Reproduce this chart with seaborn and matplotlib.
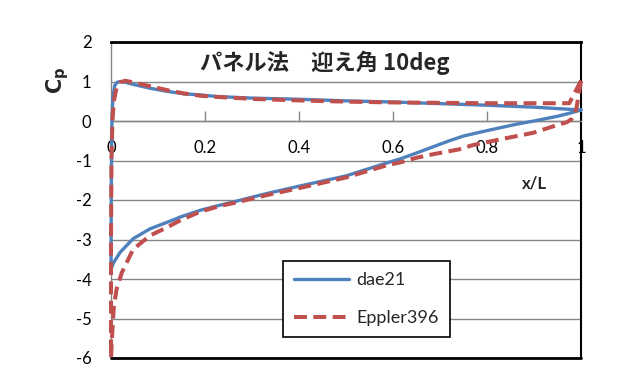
import numpy as np
import pandas as pd
import seaborn as sns
import matplotlib
matplotlib.use("Agg")
import matplotlib.pyplot as plt

# Pressure distribution, panel method, AoA 10 deg.
# Each path runs from the trailing edge along the suction side to the
# leading edge, then back along the pressure side to the trailing edge.
dae21_x = [1.000, 0.980, 0.950, 0.900, 0.863, 0.790, 0.750, 0.720, 0.686, 0.650,
           0.615, 0.590, 0.500, 0.400, 0.330, 0.260, 0.232, 0.190, 0.150, 0.118,
           0.083, 0.047, 0.019, 0.005, 0.000,
           0.0005, 0.001, 0.002, 0.004, 0.008, 0.013, 0.020, 0.030, 0.050, 0.083,
           0.120, 0.154, 0.190, 0.225, 0.300, 0.400, 0.500, 0.600, 0.700, 0.800,
           0.900, 0.970, 1.000]
dae21_cp = [0.28, 0.21, 0.12, 0.00, -0.08, -0.27, -0.38, -0.50, -0.65, -0.81,
            -0.96, -1.05, -1.39, -1.65, -1.84, -2.05, -2.13, -2.26, -2.42, -2.57,
            -2.73, -2.98, -3.33, -3.60, -3.75,
            -2.00, -1.00, 0.00, 0.60, 0.90, 0.98, 1.00, 0.98, 0.92, 0.83,
            0.75, 0.69, 0.66, 0.62, 0.58, 0.55, 0.51, 0.48, 0.44, 0.40,
            0.35, 0.30, 0.28]

eppler_x = [1.000, 0.990, 0.980, 0.970, 0.950, 0.898, 0.830, 0.770, 0.740, 0.686,
            0.650, 0.615, 0.587, 0.500, 0.400, 0.330, 0.260, 0.232, 0.189, 0.150,
            0.118, 0.083, 0.047, 0.023, 0.012, 0.006, 0.002, 0.000,
            0.000, 0.001, 0.003, 0.006, 0.012, 0.020, 0.030, 0.050, 0.083, 0.120,
            0.154, 0.190, 0.225, 0.300, 0.400, 0.500, 0.600, 0.700, 0.800, 0.900,
            0.975, 1.000]
eppler_cp = [1.02, 0.30, 0.05, -0.03, -0.10, -0.30, -0.46, -0.61, -0.72, -0.84,
             -0.93, -1.05, -1.12, -1.43, -1.70, -1.88, -2.08, -2.15, -2.30, -2.50,
             -2.70, -2.90, -3.25, -3.84, -4.25, -4.70, -5.50, -6.00,
             -3.00, -1.00, 0.00, 0.50, 0.85, 0.98, 1.02, 0.97, 0.88, 0.78,
             0.70, 0.64, 0.61, 0.56, 0.52, 0.49, 0.47, 0.46, 0.45, 0.45,
             0.45, 1.02]

series_names = ["dae21", "Eppler396"]
y_ticks = [-6, -5, -4, -3, -2, -1, 0, 1, 2]
x_ticks = [0, 0.2, 0.4, 0.6, 0.8, 1]
x_ticklabels = ["0", "0.2", "0.4", "0.6", "0.8", "1"]
title_text = "パネル法\u3000迎え角 10deg"

BLUE = "#4F81BD"
RED = "#C0504D"
GRID = "#868686"

sns.set_style("white")
plt.rcParams["font.family"] = ["Lato", "Noto Sans CJK JP", "DejaVu Sans"]

fig = plt.figure(figsize=(6.29, 3.82), dpi=100)
ax = fig.add_axes([111 / 629, 1 - 358 / 382, 470 / 629, 316 / 382])

df_a = pd.DataFrame({"x": dae21_x, "cp": dae21_cp})
df_b = pd.DataFrame({"x": eppler_x, "cp": eppler_cp})

sns.lineplot(data=df_a, x="x", y="cp", sort=False, estimator=None, ax=ax,
             color=BLUE, linewidth=2.4, label=series_names[0])
line_a = ax.lines[-1]
sns.lineplot(data=df_b, x="x", y="cp", sort=False, estimator=None, ax=ax,
             color=RED, linewidth=2.9, label=series_names[1])
line_b = ax.lines[-1]
line_b.set_dashes((3.2, 1.6))
for ln in (line_a, line_b):
    ln.set_clip_on(False)
    ln.set_zorder(5)
line_a.set_zorder(4)

ax.set_xlim(0, 1)
ax.set_ylim(-6, 2)
ax.set_yticks(y_ticks)
ax.set_yticklabels([str(v) for v in y_ticks])
ax.set_xticks(x_ticks)
ax.set_xticklabels(x_ticklabels)
ax.set_xlabel("")
ax.set_ylabel("")

# horizontal gridlines only
ax.yaxis.grid(True, color=GRID, linewidth=1.0)
ax.xaxis.grid(False)
ax.set_axisbelow(True)

# category axis crosses at Cp = 0
ax.spines["bottom"].set_position(("data", 0))
ax.spines["bottom"].set_color(GRID)
ax.spines["bottom"].set_linewidth(1.0)
ax.spines["left"].set_color(GRID)
ax.spines["left"].set_linewidth(1.0)
ax.spines["top"].set_color("black")
ax.spines["top"].set_linewidth(2.0)
ax.spines["right"].set_color("black")
ax.spines["right"].set_linewidth(1.5)
ax.axhline(-6, color="black", linewidth=2.0, clip_on=False, zorder=3)

ax.tick_params(axis="x", direction="in", length=7, width=1.0, color=GRID,
               pad=14, labelsize=12, labelcolor="black", bottom=True)
ax.tick_params(axis="y", length=0, pad=14, labelsize=12, labelcolor="black")

ax.text(0.455, 1.47, title_text, ha="center", va="center", fontsize=16,
        fontweight="bold", family=["Noto Sans CJK JP", "DejaVu Sans"])
ax.text(0.902, -1.57, "x/L", ha="center", va="center", fontsize=12,
        fontweight="bold")
fig.text(58 / 629, 1 - 80 / 382, r"$\mathbf{C}_{\mathbf{p}}$", rotation=90,
         ha="center", va="center", fontsize=15)

handles, labels = ax.get_legend_handles_labels()
leg = ax.legend(handles, labels, loc="lower left",
                bbox_to_anchor=(0.366, 0.066), fontsize=13, frameon=True,
                fancybox=False, framealpha=1, edgecolor="black",
                handlelength=3.05, handletextpad=0.4, labelspacing=1.2,
                borderpad=0.62, borderaxespad=0)
leg.get_frame().set_linewidth(1.2)
leg.set_zorder(10)

fig.savefig("out.png", dpi=100, facecolor="white")
